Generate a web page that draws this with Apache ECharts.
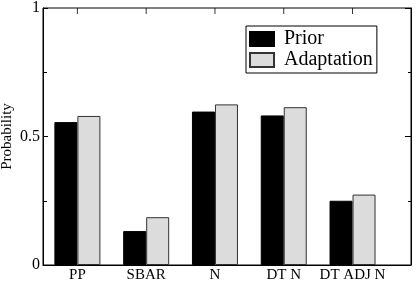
<!DOCTYPE html>
<html>
<head>
<meta charset="utf-8">
<script src="https://cdn.jsdelivr.net/npm/echarts@6/dist/echarts.min.js"></script>
<style>
  html, body { margin: 0; padding: 0; background: #fff; }
  #chart { width: 420px; height: 284px; }
</style>
</head>
<body>
<div id="chart"></div>
<script>
// categories and values
const categories = ["PP", "SBAR", "N", "DT N", "DT ADJ N"];
const priorValues = [0.556, 0.132, 0.597, 0.582, 0.25];
const adaptationValues = [0.58, 0.186, 0.625, 0.614, 0.274];
const positions = [1, 2, 3, 4, 5];
const yMax = 1;

const font = "Liberation Serif";

const myChart = echarts.init(document.getElementById("chart"));

function pairs(values) {
  return values.map((v, i) => [positions[i], v]);
}

myChart.setOption({
  animation: false,
  grid: {
    left: 43,
    right: 9,
    top: 8,
    bottom: 19,
    show: true,
    borderColor: "#000",
    borderWidth: 1,
    backgroundColor: "transparent",
    containLabel: false,
    outerBoundsMode: "none"
  },
  legend: {
    orient: "vertical",
    left: 246,
    top: 26,
    data: ["Prior", "Adaptation"],
    itemWidth: 24,
    itemHeight: 14,
    itemGap: 1,
    padding: [3, 4, 3, 3],
    borderColor: "#000",
    borderWidth: 1,
    borderRadius: 0,
    icon: "rect",
    textStyle: {
      fontFamily: font,
      fontSize: 20,
      lineHeight: 19,
      color: "#000",
      padding: [0, 0, 0, 5]
    }
  },
  xAxis: {
    type: "value",
    min: 0.5,
    max: 5.85,
    position: "bottom",
    axisLine: { show: true, onZero: false, lineStyle: { color: "#000", width: 1 } },
    axisTick: { show: false },
    splitLine: { show: false },
    axisLabel: {
      customValues: positions,
      formatter: v => categories[Math.round(v) - 1] || "",
      fontFamily: font,
      fontSize: 15,
      color: "#000",
      margin: 3
    }
  },
  yAxis: [
    {
      type: "value",
      min: 0,
      max: yMax,
      interval: 0.5,
      position: "left",
      name: "Probability",
      nameLocation: "middle",
      nameGap: 28,
      nameMoveOverlap: false,
      nameTextStyle: { fontFamily: font, fontSize: 15, color: "#000" },
      axisLine: { show: true, onZero: false, lineStyle: { color: "#000", width: 1 } },
      axisTick: { show: true, inside: true, length: 5, lineStyle: { color: "#000" } },
      minorTick: { show: true, splitNumber: 2, length: 4, lineStyle: { color: "#000" } },
      splitLine: { show: false },
      axisLabel: {
        formatter: v => (v === 0 ? "0" : v === 1 ? "1" : String(v)),
        fontFamily: font,
        fontSize: 16,
        color: "#000",
        margin: 3
      }
    },
    {
      type: "value",
      min: 0,
      max: yMax,
      interval: 0.5,
      position: "right",
      axisLine: { show: true, onZero: false, lineStyle: { color: "#000", width: 1 } },
      axisTick: { show: true, inside: true, length: 6, lineStyle: { color: "#000" } },
      minorTick: { show: true, splitNumber: 2, length: 3, lineStyle: { color: "#000" } },
      splitLine: { show: false },
      axisLabel: { show: false }
    }
  ],
  series: [
    {
      name: "Prior",
      type: "bar",
      barWidth: 23,
      barGap: "0%",
      itemStyle: { color: "#000", borderColor: "#000", borderWidth: 1 },
      data: pairs(priorValues)
    },
    {
      name: "Adaptation",
      type: "bar",
      barWidth: 23,
      barGap: "0%",
      itemStyle: { color: "#dcdcdc", borderColor: "#333", borderWidth: 1 },
      data: pairs(adaptationValues)
    },
    {
      // tick marks along the top frame, one per category
      name: "topTicks",
      type: "scatter",
      silent: true,
      symbol: "rect",
      symbolSize: [1, 6],
      symbolOffset: [0, 3],
      itemStyle: { color: "#000" },
      data: positions.map(p => [p, yMax])
    }
  ]
});
</script>
</body>
</html>
